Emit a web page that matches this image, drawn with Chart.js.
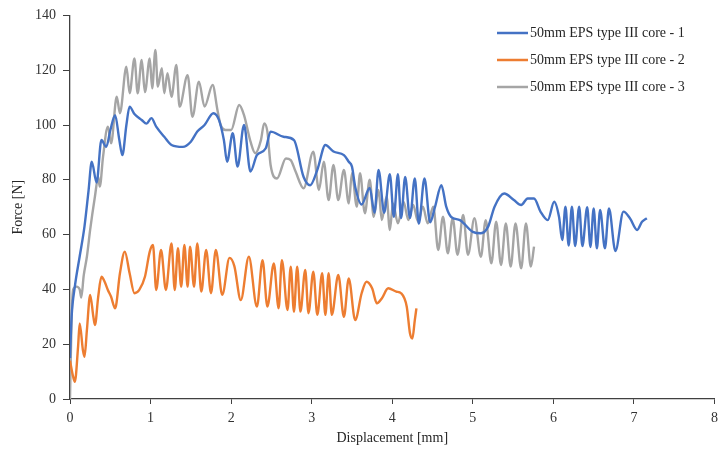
<!DOCTYPE html>
<html>
<head>
<meta charset="utf-8">
<script src="https://cdn.jsdelivr.net/npm/chart.js@4"></script>
<style>
  html, body { margin: 0; padding: 0; background: #fff; }
  #wrap { width: 724px; height: 449px; }
</style>
</head>
<body>
<div id="wrap"><canvas id="chart"></canvas></div>
<script>
// series labels
const seriesNames = ['50mm EPS type III core - 1', '50mm EPS type III core - 2', '50mm EPS type III core - 3']

// core 1 (blue)
const core1X = [0.00, 0.02, 0.06, 0.12, 0.18, 0.23, 0.27, 0.33, 0.39, 0.45, 0.50, 0.56, 0.61, 0.65, 0.70, 0.74, 0.80, 0.89, 0.95, 1.01,
    1.07, 1.17, 1.26, 1.40, 1.50, 1.58, 1.67, 1.78, 1.85, 1.91, 1.95, 2.02, 2.08, 2.16, 2.24, 2.32, 2.43, 2.49, 2.65, 2.78,
    2.90, 2.98, 3.07, 3.17, 3.27, 3.40, 3.46, 3.50, 3.54, 3.62, 3.72, 3.78, 3.83, 3.90, 3.97, 4.02, 4.07, 4.11, 4.16, 4.22,
    4.28, 4.33, 4.40, 4.47, 4.53, 4.61, 4.67, 4.73, 4.84, 5.00, 5.10, 5.19, 5.27, 5.39, 5.51, 5.60, 5.68, 5.76, 5.84, 5.93,
    6.01, 6.07, 6.11, 6.15, 6.19, 6.23, 6.27, 6.32, 6.36, 6.42, 6.46, 6.50, 6.54, 6.58, 6.64, 6.69, 6.77, 6.87, 6.95, 7.04,
    7.10, 7.16]
const core1Y = [15, 30, 41, 52, 63, 76, 86.6, 79, 94.5, 92, 98, 103.6, 95, 89, 100, 106.7, 104, 101.8, 100.5, 102.5,
    99.4, 95.7, 92.7, 92, 93.9, 97.6, 100, 104.3, 101.8, 94.5, 86.6, 97, 84.8, 100, 83, 89, 91.5, 97.6, 95.7, 94.5,
    81, 78, 83.6, 92.7, 90.3, 89, 86.6, 84.8, 77.5, 71, 77, 68, 83.6, 68, 82, 66.5, 82, 66, 81, 66,
    80.5, 64, 80.5, 64.5, 70, 78, 70.2, 66.5, 65.3, 61, 60.5, 62.9, 70.2, 75, 72.6, 70.8, 73.2, 73.2, 68.4, 65.3,
    72, 66.5, 58, 70.2, 56, 70.2, 55.8, 70.2, 55.8, 70, 55.5, 69.5, 55, 69, 55, 69.5, 54, 68.4, 66, 61.7,
    64.7, 66]

// core 2 (orange)
const core2X = [0.00, 0.04, 0.06, 0.10, 0.12, 0.16, 0.18, 0.21, 0.25, 0.29, 0.31, 0.35, 0.39, 0.43, 0.47, 0.51, 0.56, 0.62, 0.68, 0.74,
    0.80, 0.86, 0.93, 0.99, 1.03, 1.07, 1.13, 1.19, 1.26, 1.30, 1.34, 1.38, 1.42, 1.46, 1.49, 1.54, 1.58, 1.63, 1.69, 1.75,
    1.81, 1.89, 1.98, 2.04, 2.12, 2.22, 2.32, 2.39, 2.45, 2.53, 2.59, 2.63, 2.70, 2.74, 2.78, 2.82, 2.86, 2.92, 2.96, 3.02,
    3.07, 3.13, 3.17, 3.21, 3.25, 3.33, 3.40, 3.46, 3.54, 3.62, 3.68, 3.75, 3.81, 3.87, 3.95, 4.05, 4.11, 4.18, 4.22, 4.25,
    4.28, 4.30]
const core2Y = [14, 8, 6.3, 19, 27.6, 17.9, 15.4, 25.2, 38, 30, 27, 37.3, 44.6, 42.8, 39.8, 37.3, 33.1, 45.9, 53.8, 45.9,
    38.6, 39.8, 44.6, 53.8, 56.2, 39.8, 54.4, 39.8, 56.8, 39.8, 55, 41, 56.2, 41, 55.6, 41, 56.8, 39.2, 54.4, 38.6,
    54.4, 38, 51.5, 48.5, 36.1, 51.9, 33.7, 50.7, 33.7, 49.5, 33.1, 50.7, 32.5, 48.3, 31.9, 48.3, 31.9, 47.1, 31.3, 46.5,
    30.7, 45.9, 30.7, 45.9, 30.7, 45.3, 30, 44, 28.8, 38.6, 42.8, 40.4, 34.9, 36.7, 40.4, 39.2, 38.6, 33.7, 24, 22.1,
    28.8, 33.1]

// core 3 (grey)
const core3X = [0.00, 0.02, 0.04, 0.08, 0.12, 0.14, 0.17, 0.21, 0.25, 0.31, 0.35, 0.37, 0.41, 0.47, 0.51, 0.58, 0.62, 0.70, 0.74, 0.80,
    0.84, 0.89, 0.93, 0.99, 1.02, 1.06, 1.09, 1.14, 1.17, 1.21, 1.26, 1.32, 1.36, 1.46, 1.52, 1.60, 1.67, 1.77, 1.83, 1.87,
    1.93, 2.00, 2.10, 2.16, 2.24, 2.30, 2.37, 2.41, 2.45, 2.49, 2.57, 2.68, 2.74, 2.80, 2.90, 3.02, 3.09, 3.15, 3.21, 3.27,
    3.33, 3.40, 3.46, 3.50, 3.56, 3.60, 3.66, 3.72, 3.77, 3.83, 3.87, 3.93, 3.97, 4.01, 4.07, 4.14, 4.20, 4.26, 4.32, 4.38,
    4.44, 4.51, 4.57, 4.63, 4.69, 4.75, 4.81, 4.88, 4.94, 5.02, 5.10, 5.16, 5.23, 5.29, 5.35, 5.41, 5.47, 5.53, 5.60, 5.66,
    5.72, 5.76]
const core3Y = [0, 30, 40, 41, 40, 37, 45, 52, 61.7, 74, 81, 77.5, 88.4, 99.4, 93.3, 110.3, 104.3, 121.3, 111.6, 124.3,
    111.6, 123.7, 112, 124.3, 113.4, 127.4, 114, 120.7, 111.6, 118.9, 110.3, 121.9, 106.7, 118.2, 103, 115.8, 106.7, 114.6, 105.5, 100,
    98.2, 98.2, 107.3, 103.6, 94, 89.7, 94.5, 100.6, 97.6, 85.4, 80.5, 87.8, 87.2, 83, 76.9, 90.3, 76.3, 86.6, 72.6, 85.4,
    72.6, 83.6, 71.4, 82.4, 70.2, 82.4, 67.8, 80, 66.5, 76.3, 65.3, 73.8, 61.7, 71.4, 64.1, 72, 65.3, 70.8, 64.7, 70.2,
    64.1, 70.2, 54.4, 66.5, 53.2, 66, 52.6, 67.2, 52.6, 66, 51.9, 65.3, 49.5, 64.7, 48.9, 64.1, 48.3, 64.1, 47.7, 64.1,
    48.3, 55.6]

const seriesColors = ['#4472C4', '#ED7D31', '#A5A5A5']

const toPoints = (xs, ys) => xs.map((x, i) => ({ x: x, y: ys[i] }))

const datasets = [
    toPoints(core1X, core1Y),
    toPoints(core2X, core2Y),
    toPoints(core3X, core3Y)
].map((pts, i) => ({
    label: seriesNames[i],
    data: pts,
    borderColor: seriesColors[i],
    backgroundColor: seriesColors[i],
    borderWidth: 2.4,
    pointRadius: 0,
    cubicInterpolationMode: 'monotone',
    fill: false
}))

// legend drawn inside the plot, top right
const insideLegend = {
    id: 'insideLegend',
    afterDraw(chart) {
        const ctx = chart.ctx
        ctx.save()
        ctx.font = '14px "Liberation Serif", "Times New Roman", serif'
        ctx.textBaseline = 'middle'
        ctx.fillStyle = '#262626'
        const rows = [33, 60, 87]
        seriesNames.forEach((name, i) => {
            ctx.strokeStyle = seriesColors[i]
            ctx.lineWidth = 2.5
            ctx.beginPath()
            ctx.moveTo(497, rows[i])
            ctx.lineTo(528, rows[i])
            ctx.stroke()
            ctx.fillText(name, 530, rows[i])
        })
        ctx.restore()
    }
}

const axisFont = { family: '"Liberation Serif", "Times New Roman", serif', size: 14 }

new Chart(document.getElementById('chart').getContext('2d'), {
    type: 'line',
    data: { datasets: datasets },
    plugins: [insideLegend],
    options: {
        responsive: true,
        maintainAspectRatio: false,
        animation: false,
        layout: { padding: { top: 15, right: 6, left: 0, bottom: 0 } },
        plugins: {
            legend: { display: false },
            tooltip: { enabled: false }
        },
        scales: {
            x: {
                type: 'linear',
                min: 0,
                max: 8,
                ticks: { stepSize: 1, color: '#333333', font: axisFont, padding: 6, maxRotation: 0 },
                grid: { drawOnChartArea: false, drawTicks: true, tickLength: 5, color: '#404040' },
                border: { color: '#404040', width: 1.3 },
                title: { display: true, text: 'Displacement [mm]', color: '#262626', font: axisFont, padding: { top: 0, bottom: 2 } },
                afterFit: (scale) => { scale.height = 50 }
            },
            y: {
                min: 0,
                max: 140,
                ticks: { stepSize: 20, color: '#333333', font: axisFont, padding: 7 },
                grid: { drawOnChartArea: false, drawTicks: true, tickLength: 7, color: '#404040' },
                border: { color: '#404040', width: 1.3 },
                title: { display: true, text: 'Force [N]', color: '#262626', font: axisFont, padding: { top: 10, bottom: 0 } },
                afterFit: (scale) => { scale.width = 70 }
            }
        }
    }
})
</script>
</body>
</html>
